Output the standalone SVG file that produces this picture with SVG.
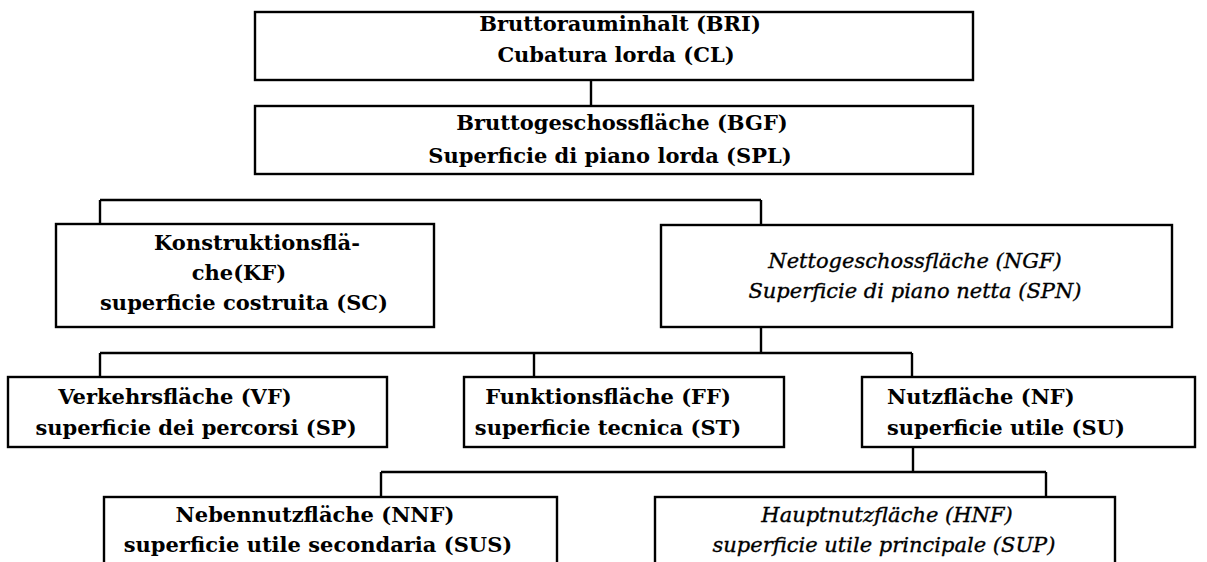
<svg xmlns="http://www.w3.org/2000/svg" width="1207" height="562" viewBox="0 0 1207 562">
<style>
rect.box{fill:#fff;stroke:#000;stroke-width:2.4}
.conn line{stroke:#000;stroke-width:2.4}
text{font-family:"DejaVu Serif","Liberation Serif",serif;font-size:21px;fill:#000;text-anchor:middle}
.b{font-weight:bold}
.i{font-style:italic;stroke:#000;stroke-width:0.35}
.s{text-anchor:start}
</style>
<rect width="1207" height="562" fill="#fff"/>
<g class="conn">
<line x1="591" y1="80" x2="591" y2="106"/>
<line x1="100" y1="200" x2="761" y2="200"/>
<line x1="100" y1="200" x2="100" y2="224"/>
<line x1="761" y1="200" x2="761" y2="225"/>
<line x1="761" y1="327" x2="761" y2="353"/>
<line x1="100" y1="353" x2="912" y2="353"/>
<line x1="100" y1="353" x2="100" y2="377"/>
<line x1="534" y1="353" x2="534" y2="377"/>
<line x1="912" y1="353" x2="912" y2="377"/>
<line x1="913" y1="447" x2="913" y2="472"/>
<line x1="381" y1="472" x2="1046" y2="472"/>
<line x1="381" y1="472" x2="381" y2="497"/>
<line x1="1046" y1="472" x2="1046" y2="497"/>
</g>
<g id="bri">
<rect class="box" x="255" y="12" width="718" height="68"/>
<text class="b" x="620" y="31">Bruttorauminhalt (BRI)</text>
<text class="b" x="616" y="62">Cubatura lorda (CL)</text>
</g>
<g id="bgf">
<rect class="box" x="255" y="106" width="718" height="68"/>
<text class="b" x="622" y="130">Bruttogeschossfläche (BGF)</text>
<text class="b" x="610" y="163">Superficie di piano lorda (SPL)</text>
</g>
<g id="kf">
<rect class="box" x="56" y="224" width="378" height="103"/>
<text class="b" x="257" y="250">Konstruktionsflä-</text>
<text class="b" x="239" y="280">che(KF)</text>
<text class="b" x="244" y="310">superficie costruita (SC)</text>
</g>
<g id="ngf">
<rect class="box" x="661" y="225" width="511" height="102"/>
<text class="i" x="915" y="268">Nettogeschossfläche (NGF)</text>
<text class="i" x="915" y="298">Superficie di piano netta (SPN)</text>
</g>
<g id="vf">
<rect class="box" x="8" y="377" width="379" height="70"/>
<text class="b" x="175" y="404">Verkehrsfläche (VF)</text>
<text class="b" x="196" y="435">superficie dei percorsi (SP)</text>
</g>
<g id="ff">
<rect class="box" x="464" y="377" width="320" height="70"/>
<text class="b" x="608" y="404">Funktionsfläche (FF)</text>
<text class="b" x="608" y="435">superficie tecnica (ST)</text>
</g>
<g id="nf">
<rect class="box" x="862" y="377" width="333" height="70"/>
<text class="b s" x="887" y="404">Nutzfläche (NF)</text>
<text class="b s" x="887" y="435">superficie utile (SU)</text>
</g>
<g id="nnf">
<rect class="box" x="104" y="497" width="453" height="80"/>
<text class="b" x="315" y="522">Nebennutzfläche (NNF)</text>
<text class="b" x="318" y="552">superficie utile secondaria (SUS)</text>
</g>
<g id="hnf">
<rect class="box" x="655" y="497" width="460" height="80"/>
<text class="i" x="887" y="522">Hauptnutzfläche (HNF)</text>
<text class="i" x="884" y="552">superficie utile principale (SUP)</text>
</g>
</svg>
